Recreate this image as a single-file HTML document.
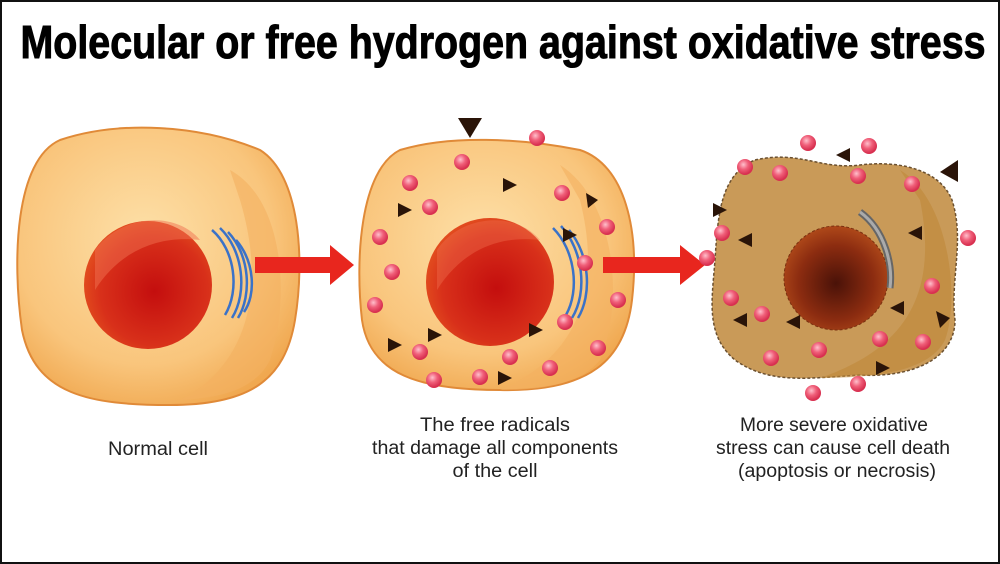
<!DOCTYPE html>
<html><head><meta charset="utf-8"><style>
body{margin:0;background:#fff}
svg{display:block}
</style></head><body>
<svg width="1000" height="564" viewBox="0 0 1000 564" xmlns="http://www.w3.org/2000/svg">
<defs>
<radialGradient id="cyto" cx="45%" cy="40%" r="65%"><stop offset="0" stop-color="#fde0a8"/><stop offset="0.7" stop-color="#f9c57c"/><stop offset="1" stop-color="#f0a850"/></radialGradient>
<radialGradient id="nuc" cx="55%" cy="55%" r="60%"><stop offset="0" stop-color="#c40e0e"/><stop offset="0.7" stop-color="#d8301a"/><stop offset="1" stop-color="#e4521f"/></radialGradient>
<radialGradient id="nuc3" cx="50%" cy="55%" r="60%"><stop offset="0" stop-color="#4a1208"/><stop offset="0.6" stop-color="#8c2c10"/><stop offset="1" stop-color="#b8501c"/></radialGradient>
<radialGradient id="dot" cx="40%" cy="35%" r="60%"><stop offset="0" stop-color="#ffc0cc"/><stop offset="0.5" stop-color="#f0607a"/><stop offset="1" stop-color="#d83050"/></radialGradient>
</defs>
<rect x="1" y="1" width="998" height="562" fill="#fff" stroke="#111" stroke-width="2"/>
<text x="503" y="58" text-anchor="middle" font-family="Liberation Sans Narrow, Liberation Sans, sans-serif" font-weight="bold" font-size="46" fill="#000" stroke="#000" stroke-width="1" textLength="965" lengthAdjust="spacingAndGlyphs">Molecular or free hydrogen against oxidative stress</text>

<!-- cell 1 -->
<path d="M60,140 C120,120 200,125 260,150 C300,175 305,260 295,320 C285,380 250,405 170,405 C90,405 35,395 22,330 C12,260 15,160 60,140 Z" fill="url(#cyto)" stroke="#e08a38" stroke-width="2"/>
<path d="M230,170 C285,200 290,300 270,360 C255,390 220,398 180,400 C240,370 270,300 240,200 Z" fill="#f3b060" opacity="0.6"/>
<circle cx="148" cy="285" r="64" fill="url(#nuc)"/>
<path d="M95,250 C120,215 175,210 200,240 C160,235 120,250 95,290 Z" fill="#f07050" opacity="0.5"/>
<g fill="none" stroke="#3a72c8" stroke-width="2.5">
<path d="M212,230 C235,250 240,290 225,315"/><path d="M220,228 C243,250 248,292 232,318"/><path d="M228,232 C250,255 252,295 238,318"/><path d="M236,240 C255,262 256,295 244,312"/></g>
<rect x="255" y="257" width="78" height="16" fill="#e8261e"/><polygon points="330,245 354,265 330,285" fill="#e8261e"/>

<!-- cell 2 -->
<path d="M400,150 C450,135 520,138 580,150 C625,165 640,230 632,300 C625,360 590,392 500,390 C420,390 370,375 362,320 C355,260 360,170 400,150 Z" fill="url(#cyto)" stroke="#e08a38" stroke-width="2"/>
<path d="M560,165 C615,200 625,300 600,360 C580,385 540,390 500,390 C570,360 605,300 580,200 Z" fill="#f3b060" opacity="0.6"/>
<circle cx="490" cy="282" r="64" fill="url(#nuc)"/>
<path d="M437,250 C460,215 515,210 540,240 C500,235 462,250 437,290 Z" fill="#f07050" opacity="0.4"/>
<g fill="none" stroke="#3a72c8" stroke-width="2.5">
<path d="M553,228 C575,250 580,290 566,315"/><path d="M561,226 C583,250 588,292 572,318"/><path d="M569,230 C590,255 592,295 578,318"/></g>
<rect x="603" y="257" width="80" height="16" fill="#e8261e"/><polygon points="680,245 705,265 680,285" fill="#e8261e"/>

<!-- cell 3 -->
<path d="M755,160 C800,150 820,170 860,165 C900,160 940,170 952,200 C965,240 950,280 955,320 C955,360 910,378 860,375 C810,378 770,385 735,360 C705,335 712,300 715,260 C718,215 720,175 755,160 Z" fill="#c99a58" stroke="#6b5030" stroke-width="1.5" stroke-dasharray="3,2"/>
<path d="M900,170 C950,200 960,300 945,340 C930,370 880,378 820,378 C900,350 940,300 920,200 Z" fill="#c08838" opacity="0.6"/>
<circle cx="836" cy="278" r="52" fill="url(#nuc3)" stroke="#7a3010" stroke-dasharray="3,2"/>
<path d="M860,212 C885,230 893,265 890,288" fill="none" stroke="#666" stroke-width="7"/>
<path d="M860,212 C885,230 893,265 890,288" fill="none" stroke="#aaa" stroke-width="3"/>

<g fill="url(#dot)">
<circle cx="537" cy="138" r="8"/><circle cx="462" cy="162" r="8"/><circle cx="410" cy="183" r="8"/><circle cx="430" cy="207" r="8"/><circle cx="562" cy="193" r="8"/><circle cx="380" cy="237" r="8"/><circle cx="607" cy="227" r="8"/><circle cx="392" cy="272" r="8"/><circle cx="585" cy="263" r="8"/><circle cx="618" cy="300" r="8"/><circle cx="375" cy="305" r="8"/><circle cx="565" cy="322" r="8"/><circle cx="598" cy="348" r="8"/><circle cx="420" cy="352" r="8"/><circle cx="510" cy="357" r="8"/><circle cx="550" cy="368" r="8"/><circle cx="434" cy="380" r="8"/><circle cx="480" cy="377" r="8"/>
<circle cx="808" cy="143" r="8"/><circle cx="869" cy="146" r="8"/><circle cx="745" cy="167" r="8"/><circle cx="780" cy="173" r="8"/><circle cx="858" cy="176" r="8"/><circle cx="912" cy="184" r="8"/><circle cx="722" cy="233" r="8"/><circle cx="968" cy="238" r="8"/><circle cx="707" cy="258" r="8"/><circle cx="932" cy="286" r="8"/><circle cx="731" cy="298" r="8"/><circle cx="762" cy="314" r="8"/><circle cx="819" cy="350" r="8"/><circle cx="880" cy="339" r="8"/><circle cx="923" cy="342" r="8"/><circle cx="771" cy="358" r="8"/><circle cx="858" cy="384" r="8"/><circle cx="813" cy="393" r="8"/>
</g>
<g fill="#2a1408">
<polygon points="458,118 482,118 470,138"/>
<polygon points="503,178 517,185 503,192"/><polygon points="398,203 412,210 398,217"/><polygon points="586,193 598,200 588,208"/><polygon points="563,228 577,235 563,242"/><polygon points="428,328 442,335 428,342"/><polygon points="529,323 543,330 529,337"/><polygon points="388,338 402,345 388,352"/><polygon points="498,371 512,378 498,385"/>
<polygon points="850,148 836,155 850,162"/><polygon points="940,172 958,160 958,182"/><polygon points="713,203 727,210 713,217"/><polygon points="752,233 738,240 752,247"/><polygon points="922,226 908,233 922,240"/><polygon points="904,301 890,308 904,315"/><polygon points="747,313 733,320 747,327"/><polygon points="800,315 786,322 800,329"/><polygon points="936,311 950,318 940,328"/><polygon points="876,361 890,368 876,375"/>
</g>

<g font-family="Liberation Sans Narrow, Liberation Sans, sans-serif" font-size="19" fill="#222" text-anchor="middle" lengthAdjust="spacingAndGlyphs">
<text x="158" y="455" textLength="100" lengthAdjust="spacingAndGlyphs">Normal cell</text>
<text x="495" y="431" textLength="150" lengthAdjust="spacingAndGlyphs">The free radicals</text>
<text x="495" y="454" textLength="246" lengthAdjust="spacingAndGlyphs">that damage all components</text>
<text x="495" y="477" textLength="85" lengthAdjust="spacingAndGlyphs">of the cell</text>
<text x="834" y="431" textLength="188" lengthAdjust="spacingAndGlyphs">More severe oxidative</text>
<text x="833" y="454" textLength="234" lengthAdjust="spacingAndGlyphs">stress can cause cell death</text>
<text x="837" y="477" textLength="198" lengthAdjust="spacingAndGlyphs">(apoptosis or necrosis)</text>
</g>
</svg>
</body></html>
